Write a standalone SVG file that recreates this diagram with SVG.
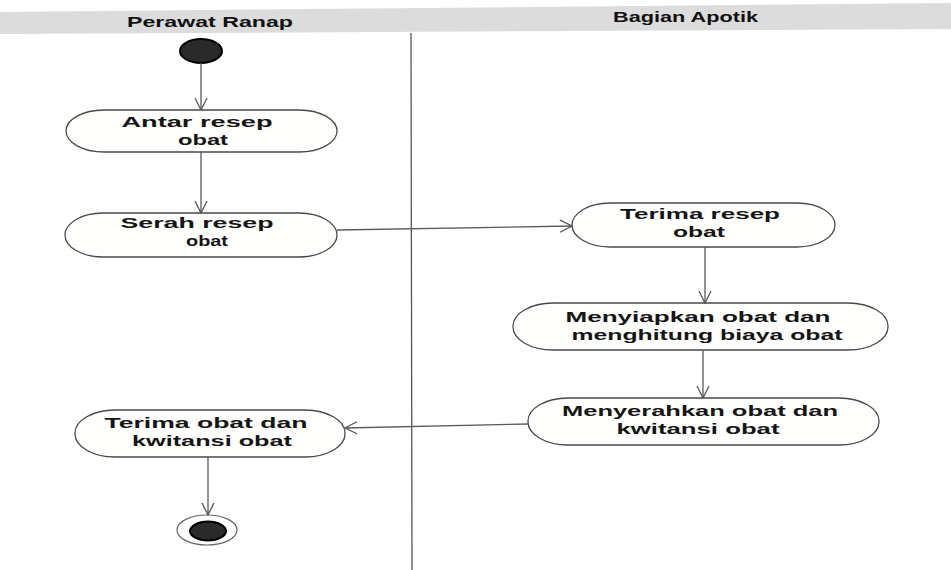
<svg xmlns="http://www.w3.org/2000/svg" width="951" height="570" viewBox="0 0 951 570">
  <style>
    .lane { font-family: "Liberation Sans", Arial, sans-serif; font-weight: bold; font-size: 14px; fill: #111; }
    .act rect { fill: #fffffd; stroke: #4a4a4a; stroke-width: 1.3; }
    .act text { font-family: "Liberation Sans", Arial, sans-serif; font-weight: bold; font-size: 15px; fill: #151515; text-anchor: middle; }
    .flow { fill: none; stroke: #5a5a5a; stroke-width: 1.3; }
  </style>
  <defs>
    <marker id="open" viewBox="0 0 14 14" refX="13" refY="7" markerWidth="14" markerHeight="14" markerUnits="userSpaceOnUse" orient="auto">
      <path d="M1,1 L13,7 L1,13" fill="none" stroke="#555" stroke-width="1.3"/>
    </marker>
  </defs>
  <rect width="951" height="570" fill="#ffffff"/>

  <!-- swimlane header and divider -->
  <g id="lanes">
    <polygon points="0,12 951,3 951,29 0,34" fill="#dcdcdc"/>
    <line x1="411" y1="33" x2="412" y2="570" stroke="#555" stroke-width="1.3"/>
    <text class="lane" x="127" y="27" textLength="166" lengthAdjust="spacingAndGlyphs">Perawat Ranap</text>
    <text class="lane" x="613" y="22" textLength="145" lengthAdjust="spacingAndGlyphs">Bagian Apotik</text>
  </g>

  <!-- start / end -->
  <g id="start">
    <ellipse cx="201" cy="51" rx="21" ry="12" fill="#2a2a2a" stroke="#000" stroke-width="2"/>
  </g>
  <g id="end">
    <ellipse cx="207" cy="530" rx="30" ry="15" fill="none" stroke="#666" stroke-width="1.2"/>
    <ellipse cx="208" cy="531" rx="18" ry="9.5" fill="#2a2a2a" stroke="#000" stroke-width="2"/>
  </g>

  <!-- activities -->
  <g id="antar" class="act">
    <rect x="66" y="110" width="271" height="42" rx="38" ry="21"/>
    <text x="197" y="127" textLength="151" lengthAdjust="spacingAndGlyphs">Antar resep</text>
    <text x="203" y="145" textLength="50" lengthAdjust="spacingAndGlyphs">obat</text>
  </g>
  <g id="serah" class="act">
    <rect x="65" y="213" width="272" height="44" rx="38" ry="22"/>
    <text x="197" y="228" textLength="153" lengthAdjust="spacingAndGlyphs">Serah resep</text>
    <text x="207" y="246" textLength="42" lengthAdjust="spacingAndGlyphs">obat</text>
  </g>
  <g id="terima-resep" class="act">
    <rect x="572" y="203" width="263" height="44" rx="38" ry="22"/>
    <text x="700" y="219" textLength="160" lengthAdjust="spacingAndGlyphs">Terima resep</text>
    <text x="699" y="237" textLength="52" lengthAdjust="spacingAndGlyphs">obat</text>
  </g>
  <g id="menyiapkan" class="act">
    <rect x="513" y="303" width="375" height="47" rx="40" ry="23"/>
    <text x="698" y="322" textLength="265" lengthAdjust="spacingAndGlyphs">Menyiapkan obat dan</text>
    <text x="707" y="340" textLength="271" lengthAdjust="spacingAndGlyphs">menghitung biaya obat</text>
  </g>
  <g id="menyerahkan" class="act">
    <rect x="528" y="398" width="351" height="47" rx="40" ry="23"/>
    <text x="700" y="416" textLength="276" lengthAdjust="spacingAndGlyphs">Menyerahkan obat dan</text>
    <text x="698" y="434" textLength="163" lengthAdjust="spacingAndGlyphs">kwitansi obat</text>
  </g>
  <g id="terima-obat" class="act">
    <rect x="75" y="410" width="270" height="47" rx="40" ry="23"/>
    <text x="206" y="428" textLength="203" lengthAdjust="spacingAndGlyphs">Terima obat dan</text>
    <text x="212" y="446" textLength="160" lengthAdjust="spacingAndGlyphs">kwitansi obat</text>
  </g>

  <!-- control flows -->
  <g id="flows">
    <line class="flow" x1="201" y1="63" x2="201" y2="110" marker-end="url(#open)"/>
    <line class="flow" x1="201" y1="152" x2="201" y2="213" marker-end="url(#open)"/>
    <line class="flow" x1="337" y1="230" x2="572" y2="226" marker-end="url(#open)"/>
    <line class="flow" x1="705" y1="247" x2="705" y2="303" marker-end="url(#open)"/>
    <line class="flow" x1="703" y1="350" x2="703" y2="398" marker-end="url(#open)"/>
    <line class="flow" x1="528" y1="424" x2="345" y2="428" marker-end="url(#open)"/>
    <line class="flow" x1="208" y1="457" x2="208" y2="515" marker-end="url(#open)"/>
  </g>
</svg>
